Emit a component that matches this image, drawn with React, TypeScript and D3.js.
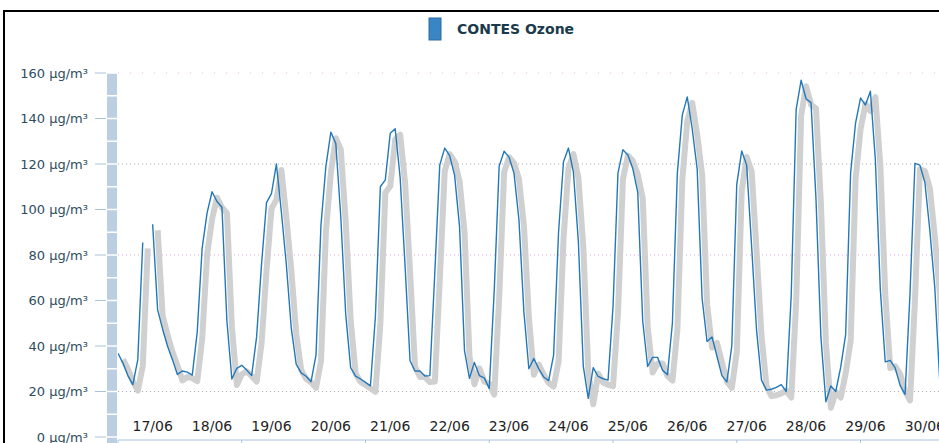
import React from "react";
import * as d3 from "d3";

// Ozone concentration (µg/m³), one reading every 2 hours, starting 17/06 00:00
const ozone: (number | null)[] = [
  36.8, 32.5, 27, 23, 34, 85.5, null, 93.5, 56, 47.5,
  40, 34, 27.5, 29, 28.5, 27.2, 46, 83, 98.5, 107.8,
  103.5, 101, 51, 25.5, 30.2, 31.5, 29.4, 27, 44, 76,
  103, 107, 120, 99, 76, 48, 32, 28.2, 26.7, 24.3,
  36, 93, 119, 134, 129, 97, 54, 30.5, 26.8, 25.5,
  24, 22.5, 53, 110, 113, 133.5, 135.5, 114, 75, 33.5,
  29, 29, 26.8, 27, 72, 119.5, 127, 123.7, 115, 92.5,
  38, 25.8, 32.8, 27, 26, 21.3, 64, 119, 125.6, 123,
  116, 95.5, 55, 30, 34.5, 30, 26.4, 24.8, 36, 90,
  121, 127, 116.5, 86, 31, 17, 30.5, 26.6, 25.6, 25,
  57, 116, 126.3, 124, 118, 107.5, 51, 31, 35, 35,
  29.4, 27.4, 50, 116, 141.5, 149.5, 135.5, 118, 61, 42,
  44, 35.5, 27, 24.2, 40, 111, 125.7, 119.5, 84, 47,
  25, 20.6, 21, 21.8, 23, 20, 62, 144, 156.8, 148.7,
  147, 105, 44, 15.5, 22.4, 20, 30.7, 45, 116, 138,
  149, 145.9, 152, 122, 65, 33, 33.7, 30.4, 22.7, 18.7,
  63, 120.3, 119.5, 112, 91, 66, 25,
];
const stepHours = 2;

const dayLabels = [
  "17/06", "18/06", "19/06", "20/06", "21/06", "22/06", "23/06",
  "24/06", "25/06", "26/06", "27/06", "28/06", "29/06", "30/06",
];
const labelHour = 14; // label placed at this hour of each day
const yTicks = [0, 20, 40, 60, 80, 100, 120, 140, 160];
const wallTicks = d3.range(0, 161, 10);
const xTickHours = [0, 50, 100, 150, 200, 250, 300];
const grayGrid = [120, 20];
const pinkGrid = [80];
const sparseGrid = [160];
const seriesName = "CONTES Ozone";
const unit = "µg/m³";

export default function App() {
  const W = 939, H = 443;
  const left = 118, right = 939.7;
  const x = d3.scaleLinear().domain([0, 332]).range([left, right]);
  const y = d3.scaleLinear().domain([0, 160]).range([437, 73]);

  const pts = ozone.map((v, i) => ({ h: i * stepHours, v }));
  const line = d3
    .line<{ h: number; v: number | null }>()
    .defined((d) => d.v !== null)
    .x((d) => x(d.h))
    .y((d) => y(d.v as number));
  const path = line(pts) || "";

  const font = "'DejaVu Sans', Verdana, sans-serif";

  return (
    <svg
      width={W}
      height={H}
      style={{ position: "absolute", left: 0, top: 0, background: "#fff" }}
    >
      <defs>
        <clipPath id="plot">
          <rect x={left} y={0} width={W - left} height={440} />
        </clipPath>
      </defs>
      <rect x={0} y={0} width={W} height={H} fill="#fff" />

      {/* frame */}
      <path d={`M4,${H} V11 H${W}`} fill="none" stroke="#000" strokeWidth={2} />

      {/* legend */}
      <rect x={429} y={18} width={12} height={22} fill="#3a86c4" stroke="#2a6aa6" strokeWidth={1} />
      <text x={457} y={34} fontFamily={font} fontWeight="bold" fontSize={14} fill="#1b3a4a">
        {seriesName}
      </text>

      {/* gridlines */}
      {grayGrid.map((v) => (
        <line key={"g" + v} x1={left} x2={W} y1={y(v)} y2={y(v)} stroke="#a8a8a8" strokeDasharray="1,3" />
      ))}
      {pinkGrid.map((v) => (
        <line key={"p" + v} x1={left} x2={W} y1={y(v)} y2={y(v)} stroke="#dca6e4" strokeDasharray="1,3" />
      ))}
      {sparseGrid.map((v) => (
        <line key={"s" + v} x1={left} x2={W} y1={y(v)} y2={y(v)} stroke="#e6bce8" strokeDasharray="1,11" />
      ))}

      {/* y axis wall */}
      <rect x={107} y={y(160)} width={10} height={H - y(160)} fill="#bccfe2" />
      {wallTicks.map((v) => (
        <line key={"w" + v} x1={107} x2={117} y1={y(v)} y2={y(v)} stroke="#fff" strokeWidth={1.5} />
      ))}
      {yTicks.map((v) => (
        <g key={"y" + v}>
          <line x1={95} x2={106} y1={y(v)} y2={y(v)} stroke="#a9c3dc" />
          <text
            x={88}
            y={y(v)}
            dy="0.35em"
            textAnchor="end"
            fontFamily={font}
            fontSize={13}
            fill="#2e4d5e"
          >
            {`${v} ${unit}`}
          </text>
        </g>
      ))}

      {/* x axis */}
      <line x1={left} x2={W} y1={440} y2={440} stroke="#a9c3dc" />
      {xTickHours.map((h) => (
        <line key={"xt" + h} x1={x(h)} x2={x(h)} y1={440} y2={H} stroke="#a9c3dc" />
      ))}
      {dayLabels.map((d, i) => (
        <text
          key={d}
          x={x(i * 24 + labelHour)}
          y={431}
          textAnchor="middle"
          fontFamily={font}
          fontSize={14}
          fill="#1e1e1e"
        >
          {d}
        </text>
      ))}

      {/* series */}
      <g clipPath="url(#plot)">
        <path
          d={path}
          transform="translate(5,6)"
          fill="none"
          stroke="#d0d0d0"
          strokeWidth={6}
          strokeLinejoin="round"
        />
        <path d={path} fill="none" stroke="#2378ba" strokeWidth={1.4} strokeLinejoin="round" />
      </g>
    </svg>
  );
}
